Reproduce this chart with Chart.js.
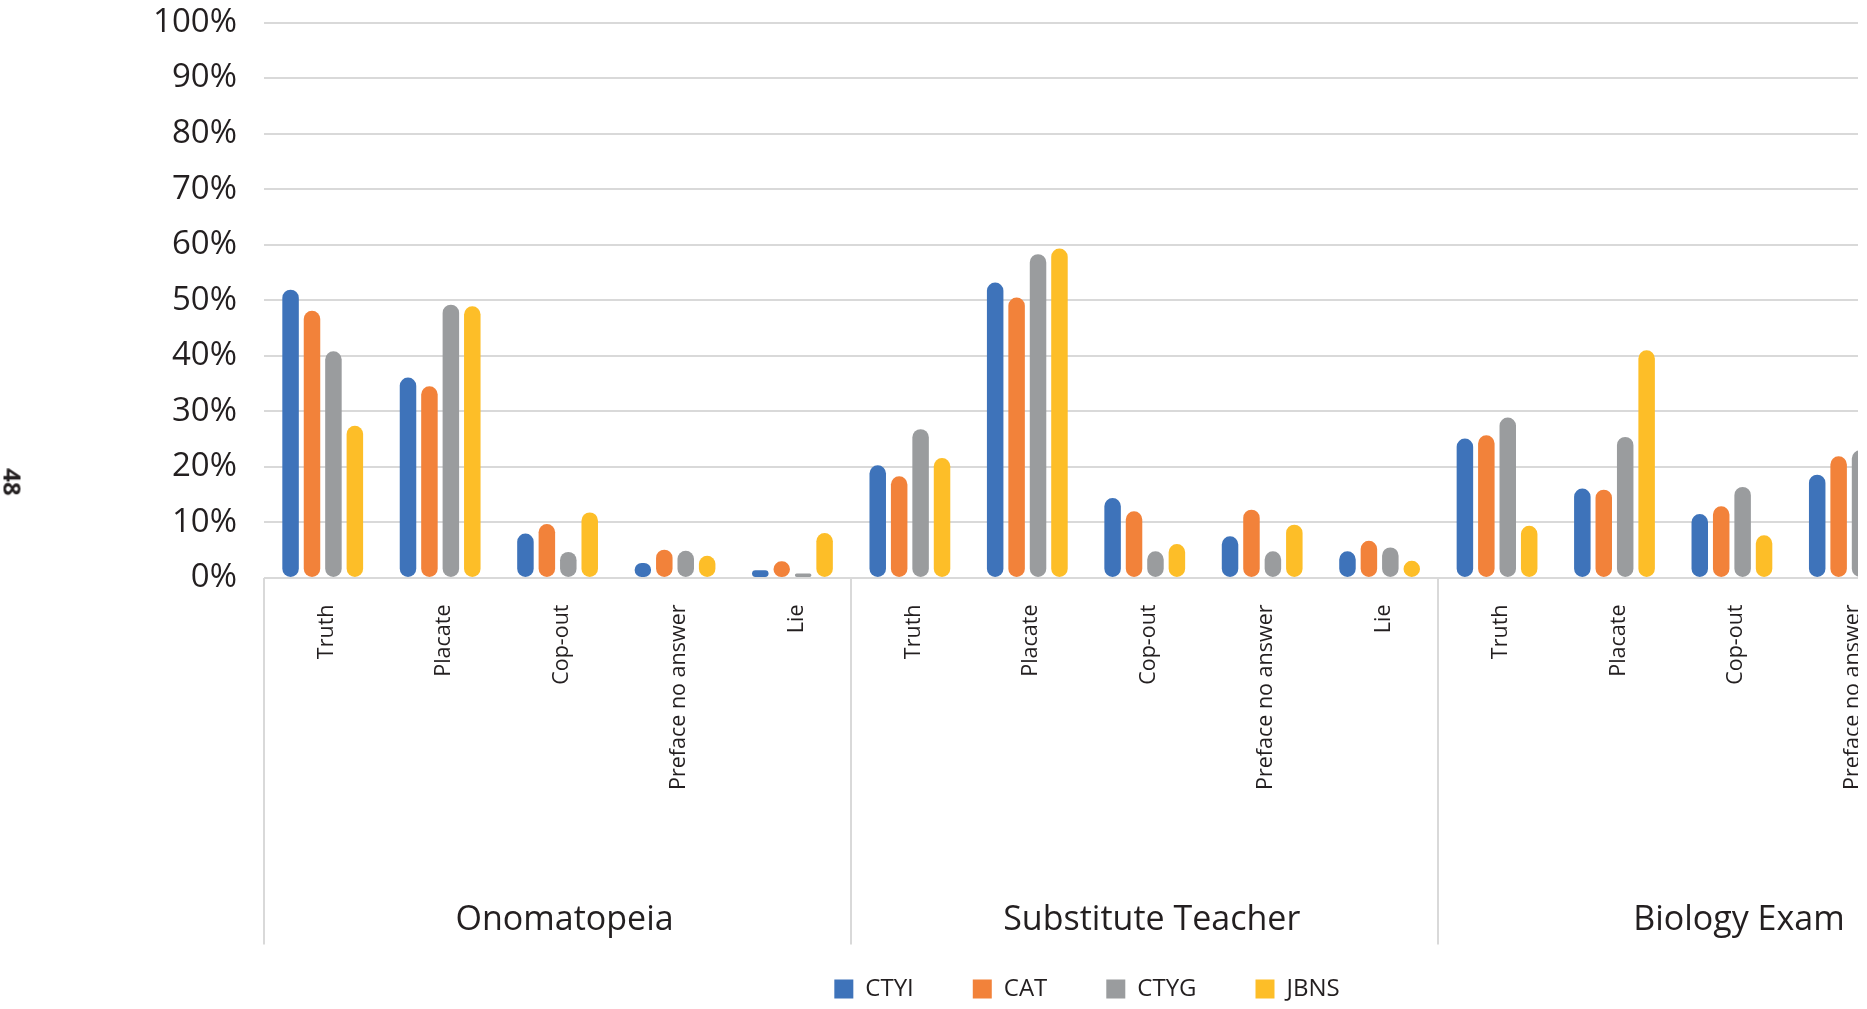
<!DOCTYPE html>
<html>
<head>
<meta charset="utf-8">
<script src="https://cdn.jsdelivr.net/npm/chart.js@4/dist/chart.umd.min.js"></script>
<style>
  html, body { margin: 0; padding: 0; background: #fff; overflow: hidden; }
  #page { position: absolute; left: 0; top: 0; width: 1858px; height: 1009px; overflow: hidden; background: #fff; }
  #chart { position: absolute; left: 0; top: 0; }
  #folio { position: absolute; left: 13px; top: 482px; font: bold 24px "Open Sans", sans-serif; color: #231f20;
           transform: translate(-50%, -50%) rotate(90deg); white-space: nowrap; }
</style>
</head>
<body>
<div id="page">
  <canvas id="chart" width="2030" height="1011"></canvas>
  <div id="folio">48</div>
</div>
<script>
// Scenarios and the response types coded within each scenario
const groups = ['Onomatopeia', 'Substitute Teacher', 'Biology Exam'];
const responses = ['Truth', 'Placate', 'Cop-out', 'Preface no answer', 'Lie'];

// Share of responses (%) per programme, in scenario/response order
const ctyi = [51.9, 36.1, 8.0, 2.7, 1.4,   20.3, 53.2, 14.4, 7.5, 4.8,   25.1, 16.1, 11.5, 18.6, 3.3];
const cat  = [48.1, 34.5, 9.7, 5.1, 3.0,   18.3, 50.5, 12.0, 12.3, 6.7,  25.7, 15.9, 12.9, 21.9, 4.1];
const ctyg = [40.8, 49.2, 4.7, 4.9, 0.8,   26.8, 58.3, 4.8, 4.8, 5.5,    28.9, 25.4, 16.4, 23.0, 2.6];
const jbns = [27.4, 48.9, 11.8, 4.0, 8.1,  21.6, 59.3, 6.1, 9.6, 3.1,    9.4, 41.0, 7.7, 16.0, 1.5];

const seriesNames = ['CTYI', 'CAT', 'CTYG', 'JBNS'];
const seriesColors = ['#3e73ba', '#f2823a', '#9a9c9e', '#fdbe28'];

// Percentage axis
const yMin = 0, yMax = 100, yStep = 10;

const family = '"Open Sans", sans-serif';
const ink = '#231f20';
const rule = '#d9d9d9';

const labels = groups.flatMap(() => responses);
const values = [ctyi, cat, ctyg, jbns];

new Chart(document.getElementById('chart'), {
  type: 'bar',
  data: {
    labels,
    datasets: seriesNames.map((name, i) => ({
      label: name,
      data: values[i],
      backgroundColor: seriesColors[i],
      borderWidth: 0,
      borderRadius: 9,
      borderSkipped: false,
      barPercentage: 0.77,
      categoryPercentage: 0.73
    }))
  },
  options: {
    responsive: false,
    animation: false,
    layout: { padding: { left: 148.5, right: 4.5, top: 22.5, bottom: 0 } },
    plugins: {
      tooltip: { enabled: false },
      legend: {
        position: 'bottom',
        labels: { boxWidth: 19, boxHeight: 19, padding: 59, color: ink, font: { size: 24, family } }
      }
    },
    scales: {
      x: {
        position: 'bottom',
        grid: { display: false },
        border: { display: false },
        ticks: { autoSkip: false, minRotation: 90, maxRotation: 90, padding: 18.5, labelOffset: 4,
                 color: ink, font: { size: 21.5, family } },
        afterFit: s => { s.height = 340; }
      },
      // Scenario names, with separators hanging below the baseline
      xGroup: {
        axis: 'x',
        type: 'category',
        labels: groups,
        position: { y: 0 },
        offset: true,
        border: { display: false },
        grid: { offset: true, drawOnChartArea: false, drawTicks: true, tickLength: 366.5, color: rule, lineWidth: 2 },
        ticks: { autoSkip: false, minRotation: 0, maxRotation: 0, padding: -45, labelOffset: 7,
                 color: ink, font: { size: 34, family } }
      },
      y: {
        min: yMin,
        max: yMax,
        border: { display: false },
        grid: { color: rule, lineWidth: 2, drawTicks: true, tickLength: 27, tickColor: 'transparent' },
        ticks: { stepSize: yStep, padding: 0, color: ink, font: { size: 33, family }, callback: v => v + '%' },
        afterFit: s => { s.width = 115.5; }
      }
    }
  }
});
</script>
</body>
</html>
